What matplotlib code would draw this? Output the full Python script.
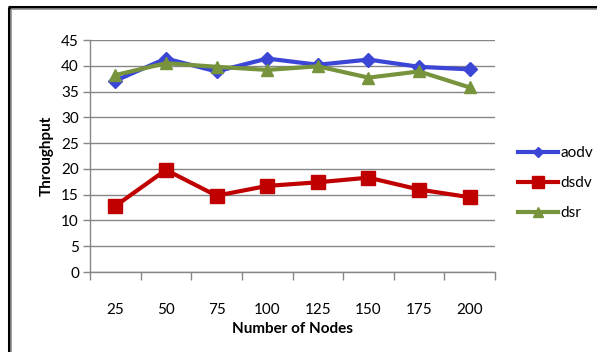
import matplotlib
matplotlib.use("Agg")
import matplotlib.pyplot as plt
from matplotlib.lines import Line2D
import numpy as np

plt.rcParams['font.family'] = ['Lato', 'DejaVu Sans']

nodes = ["25", "50", "75", "100", "125", "150", "175", "200"]
aodv = [37.1, 41.4, 38.9, 41.4, 40.2, 41.2, 39.8, 39.3]
dsdv = [12.8, 19.8, 14.8, 16.7, 17.4, 18.3, 16.0, 14.5]
dsr = [38.2, 40.5, 39.8, 39.2, 39.9, 37.7, 38.9, 35.8]

series_names = ["aodv", "dsdv", "dsr"]
colors = ["#3b46d6", "#c00000", "#77933c"]
markers = ["D", "s", "^"]
msizes = [7, 10, 9]

W, H = 597, 352
fig = plt.figure(figsize=(W / 100, H / 100), dpi=100)

# outer frame (black line with a grey inner shadow)
fig.add_artist(Line2D([8.5 / W, 8.5 / W], [0, 1 - 7 / H], transform=fig.transFigure,
                      color="black", lw=2.2, solid_capstyle="butt"))
fig.add_artist(Line2D([8 / W, 1], [1 - 7 / H, 1 - 7 / H], transform=fig.transFigure,
                      color="black", lw=2.2, solid_capstyle="butt"))
fig.add_artist(Line2D([10.8 / W, 10.8 / W], [0, 1 - 9.2 / H], transform=fig.transFigure,
                      color="#909090", lw=1.2, solid_capstyle="butt"))
fig.add_artist(Line2D([10.8 / W, 1], [1 - 9.2 / H, 1 - 9.2 / H], transform=fig.transFigure,
                      color="#909090", lw=1.2, solid_capstyle="butt"))

ax = fig.add_axes([90 / W, 1 - 272 / H, 405 / W, 232 / H])
x = np.arange(len(nodes))
for vals, name, c, m, ms in zip([aodv, dsdv, dsr], series_names, colors, markers, msizes):
    ax.plot(x, vals, color=c, lw=3, marker=m, markersize=ms, label=name, zorder=3)

ax.set_xlim(-0.5, len(nodes) - 0.5)
ax.set_ylim(0, 45)
ax.set_yticks(np.arange(0, 46, 5))
ax.yaxis.grid(True, color="#868686", lw=1)
ax.set_axisbelow(True)
for s in ["top", "right"]:
    ax.spines[s].set_visible(False)
for s in ["left", "bottom"]:
    ax.spines[s].set_color("#868686")
    ax.spines[s].set_linewidth(1)

ax.set_xticks(x)
ax.set_xticklabels(nodes)
ax.set_xticks(np.arange(-0.5, len(nodes)), minor=True)
ax.tick_params(axis="x", which="major", length=0, pad=22, labelsize=11, colors="black")
ax.tick_params(axis="x", which="minor", length=6, width=1, color="#868686", direction="out")
ax.tick_params(axis="y", which="major", length=5, width=1, color="#868686",
               direction="out", pad=3, labelsize=11, labelcolor="black")

ax.set_xlabel("Number of Nodes", fontsize=11, fontweight="bold", labelpad=4)
ax.set_ylabel("Throughput", fontsize=11, fontweight="bold", labelpad=5)

handles = [Line2D([0], [0], color=c, lw=3, marker=m, markersize=ms * 0.8)
           for c, m, ms in zip(colors, markers, msizes)]
fig.legend(handles, series_names, loc="upper left", bbox_to_anchor=(512 / W, 1 - 140 / H),
           frameon=False, fontsize=11, handlelength=2.6, handletextpad=0.15,
           labelspacing=1.05, borderaxespad=0)

fig.savefig("out.png", dpi=100)
